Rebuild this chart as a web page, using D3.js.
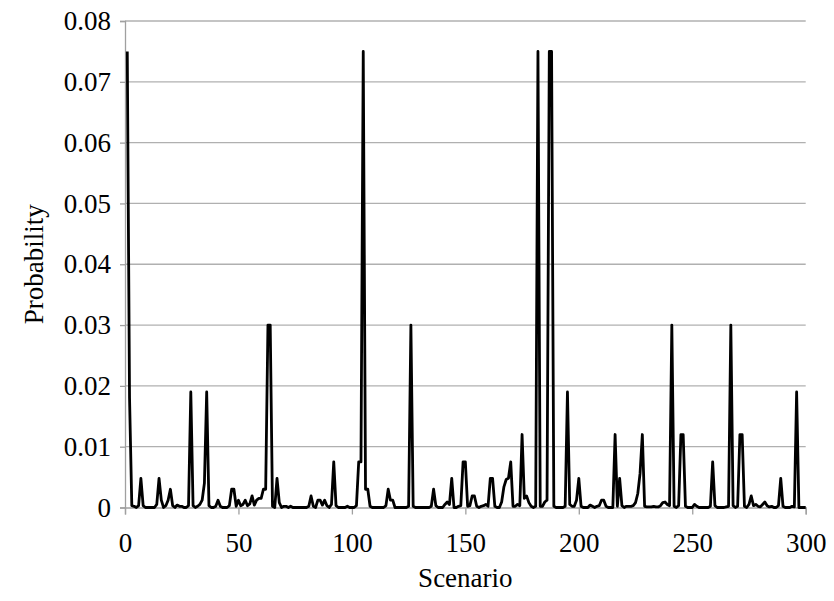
<!DOCTYPE html>
<html>
<head>
<meta charset="utf-8">
<script src="https://cdn.jsdelivr.net/npm/d3@7"></script>
<style>
  html, body { margin: 0; padding: 0; background: #fff; }
  svg { display: block; }
  svg text { font-family: "Liberation Serif", "Times New Roman", serif !important; fill: #000; }
</style>
</head>
<body>
<svg id="chart" width="834" height="601"></svg>
<script>
// Scenario numbers 1..300 and probability of each scenario
const probability = [
  /*1-10*/   0.075, 0.018, 0.0003, 0.0002, 0, 0.0003, 0.0048, 0.0003, 0, 0,
  /*11-20*/  0, 0, 0, 0.0005, 0.0048, 0.0012, 0, 0.0003, 0.0012, 0.003,
  /*21-30*/  0.0003, 0, 0.0004, 0.0002, 0.0002, 0, 0, 0.0003, 0.019, 0.0003,
  /*31-40*/  0, 0.0002, 0.0005, 0.0012, 0.004, 0.019, 0.0003, 0, 0, 0.0002,
  /*41-50*/  0.0012, 0.0002, 0, 0, 0, 0.0003, 0.003, 0.003, 0.0002, 0.0012,
  /*51-60*/  0.0003, 0.0005, 0.0012, 0.0003, 0.0006, 0.0019, 0.0004, 0.0012, 0.0015, 0.0015,
  /*61-70*/  0.003, 0.003, 0.03, 0.03, 0.0002, 0, 0.0048, 0.0008, 0, 0.0002,
  /*71-80*/  0.0002, 0, 0.0002, 0, 0, 0, 0, 0, 0, 0,
  /*81-90*/  0.0002, 0.0019, 0.0002, 0, 0.0012, 0.0012, 0.0004, 0.0012, 0.0003, 0,
  /*91-100*/ 0.0005, 0.0075, 0.0003, 0, 0, 0, 0, 0.0002, 0, 0,
  /*101-110*/0, 0.0003, 0.0075, 0.0075, 0.075, 0.003, 0.003, 0.0002, 0, 0,
  /*111-120*/0, 0, 0, 0, 0.0003, 0.003, 0.0012, 0.0012, 0, 0,
  /*121-130*/0, 0, 0, 0, 0.0002, 0.03, 0.0002, 0, 0, 0,
  /*131-140*/0, 0, 0, 0, 0.0002, 0.003, 0.0003, 0, 0, 0,
  /*141-150*/0.0005, 0.0009, 0.0005, 0.0048, 0, 0, 0.0002, 0.0003, 0.0075, 0.0075,
  /*151-160*/0.0002, 0.0003, 0.0019, 0.0019, 0.0002, 0, 0.0002, 0.0003, 0.0005, 0.0002,
  /*161-170*/0.0048, 0.0048, 0.0002, 0, 0, 0.0009, 0.0034, 0.0046, 0.0048, 0.0075,
  /*171-180*/0.0002, 0.0002, 0.0005, 0.0003, 0.012, 0.0015, 0.0019, 0.0008, 0.0002, 0,
  /*181-190*/0.0002, 0.075, 0.0002, 0.0002, 0.0009, 0.0012, 0.075, 0.075, 0.0002, 0,
  /*191-200*/0, 0, 0, 0.0002, 0.019, 0.0005, 0.0002, 0.0002, 0.0012, 0.0048,
  /*201-210*/0.0002, 0, 0, 0, 0.0004, 0.0002, 0, 0.0002, 0.0003, 0.0012,
  /*211-220*/0.0012, 0.0002, 0, 0, 0, 0.012, 0.0002, 0.0048, 0.0003, 0,
  /*221-230*/0.0002, 0.0002, 0.0002, 0.0003, 0.0008, 0.0023, 0.0056, 0.012, 0.0002, 0.0001,
  /*231-240*/0.0001, 0.0001, 0.0002, 0.0001, 0.0001, 0.0003, 0.0008, 0.0009, 0.0005, 0.0003,
  /*241-250*/0.03, 0.0002, 0, 0.0003, 0.012, 0.012, 0.0002, 0, 0, 0,
  /*251-260*/0.0005, 0.0002, 0, 0, 0, 0, 0, 0.0002, 0.0075, 0.0003,
  /*261-270*/0, 0, 0, 0, 0.0001, 0.0002, 0.03, 0.0003, 0, 0.0002,
  /*271-280*/0.012, 0.012, 0.0002, 0, 0.0005, 0.0019, 0.0003, 0.0005, 0.0002, 0.0001,
  /*281-290*/0.0005, 0.0009, 0.0003, 0.0001, 0.0002, 0, 0, 0.0003, 0.0048, 0.0002,
  /*291-300*/0, 0, 0, 0.0002, 0.0001, 0.019, 0, 0, 0, 0
];
const scenarios = probability.map((_, i) => i + 1);

const xTicks = [0, 50, 100, 150, 200, 250, 300];
const yTicks = [0, 0.01, 0.02, 0.03, 0.04, 0.05, 0.06, 0.07, 0.08];
const xTitle = "Scenario";
const yTitle = "Probability";

const svg = d3.select("#chart");
const mLeft = 125, mRight = 805.7, mTop = 21, mBottom = 507.5;
const serif = '"Liberation Serif", "Times New Roman", serif';

const x = d3.scaleLinear().domain([0, 300]).range([mLeft, mRight]);
const y = d3.scaleLinear().domain([0, 0.08]).range([mBottom, mTop]);

// gridlines
svg.append("g").selectAll("line").data(yTicks.filter(d => d > 0)).join("line")
  .attr("x1", mLeft).attr("x2", mRight)
  .attr("y1", d => y(d)).attr("y2", d => y(d))
  .attr("stroke", "#b0b0b0").attr("stroke-width", 1.3);

// Y axis
const yAxis = d3.axisLeft(y).tickValues(yTicks).tickSize(5).tickPadding(9)
  .tickFormat(d => d === 0 ? "0" : d3.format(".2f")(d));
const gy = svg.append("g").attr("transform", `translate(${mLeft},0)`).call(yAxis)
  .attr("font-family", serif).attr("font-size", 27);
gy.select(".domain").attr("stroke", "#a0a0a0").attr("stroke-width", 1.3);
gy.selectAll(".tick line").attr("stroke", "#a0a0a0").attr("stroke-width", 1.3);
gy.selectAll(".tick text").style("font-family", serif).style("font-size", "27px").attr("fill", "#000");

// X axis
const xAxis = d3.axisBottom(x).tickValues(xTicks).tickSize(7).tickPadding(18)
  .tickFormat(d3.format("d"));
const gx = svg.append("g").attr("transform", `translate(0,${mBottom})`).call(xAxis)
  .attr("font-family", serif).attr("font-size", 27);
gx.select(".domain").attr("stroke", "#a0a0a0").attr("stroke-width", 1.3);
gx.selectAll(".tick line").attr("stroke", "#a0a0a0").attr("stroke-width", 1.3);
gx.selectAll(".tick text").style("font-family", serif).style("font-size", "27px").attr("fill", "#000");

// series line
const line = d3.line().x((d, i) => x(scenarios[i])).y(d => y(d));
svg.append("path").datum(probability)
  .attr("d", line)
  .attr("fill", "none").attr("stroke", "#000").attr("stroke-width", 2.8)
  .attr("stroke-linejoin", "round");

// titles
svg.append("text").attr("x", (mLeft + mRight) / 2).attr("y", 587)
  .attr("text-anchor", "middle").style("font-size", "27px").text(xTitle);
svg.append("text").attr("transform", `translate(43,${(mTop + mBottom) / 2}) rotate(-90)`)
  .attr("text-anchor", "middle").style("font-size", "27px").text(yTitle);
</script>
</body>
</html>
